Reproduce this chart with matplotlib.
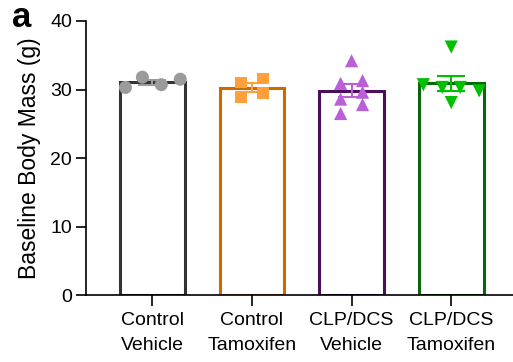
import numpy as np
import matplotlib.pyplot as plt

plt.rcParams['font.family'] = ['Liberation Sans', 'DejaVu Sans']

groups = ['Control\nVehicle', 'Control\nTamoxifen', 'CLP/DCS\nVehicle', 'CLP/DCS\nTamoxifen']
ctrl_veh = [30.3, 31.8, 30.7, 31.5]
ctrl_tam = [31.0, 31.6, 28.9, 29.5]
clp_veh = [34.2, 30.9, 31.3, 28.6, 29.6, 27.8, 26.5]
clp_tam = [36.2, 30.7, 30.3, 30.3, 29.8, 28.1]

# horizontal scatter of the points inside each bar
jitter = [
    [-0.27, -0.10, 0.09, 0.28],
    [-0.11, 0.11, -0.11, 0.11],
    [0.0, -0.11, 0.11, -0.11, 0.11, 0.11, -0.11],
    [0.0, -0.28, -0.09, 0.09, 0.28, 0.0],
]

edge_colors = ['#333333', '#cc6a00', '#4a0e5c', '#0b650b']
point_colors = ['#9b9b9e', '#ffa03c', '#bb5fd9', '#00c000']
markers = ['o', 's', '^', 'v']
marker_sizes = [88, 68, 90, 90]

data = [ctrl_veh, ctrl_tam, clp_veh, clp_tam]

fig = plt.figure(figsize=(5.13, 3.62), dpi=100)
ax = fig.add_axes([0.1676, 0.185, 0.8324, 0.757])

for i, vals in enumerate(data):
    vals = np.array(vals)
    mean = vals.mean()
    sem = vals.std(ddof=1) / np.sqrt(len(vals))
    ax.bar(i, mean, width=0.65, facecolor='white', edgecolor=edge_colors[i],
           linewidth=2.2, zorder=1)
    ax.errorbar(i, mean, yerr=sem, color=point_colors[i], capsize=10,
                elinewidth=1.5, capthick=1.5, zorder=2)
    ax.scatter(i + np.array(jitter[i]), vals, marker=markers[i], s=marker_sizes[i],
               color=point_colors[i], edgecolor='none', zorder=3)

ax.set_xlim(-0.666, 3.62)
ax.set_ylim(0, 40)
ax.set_yticks([0, 10, 20, 30, 40])
ax.set_xticks(range(4))
ax.set_xticklabels(groups, fontsize=14, linespacing=1.55)
ax.tick_params(axis='y', labelsize=14, length=7, width=1.2, pad=3)
ax.tick_params(axis='x', length=8, width=1.2, pad=4.5)
ax.spines['top'].set_visible(False)
ax.spines['right'].set_visible(False)
ax.spines['left'].set_linewidth(1.2)
ax.spines['bottom'].set_linewidth(1.2)
ax.set_ylabel('Baseline Body Mass (g)', fontsize=16.5)
ax.yaxis.set_label_coords(-0.105, 0.5)

fig.text(12 / 513, 0.925, 'a', fontsize=25, fontweight='bold', va='baseline')

fig.savefig('out.png', dpi=100)
